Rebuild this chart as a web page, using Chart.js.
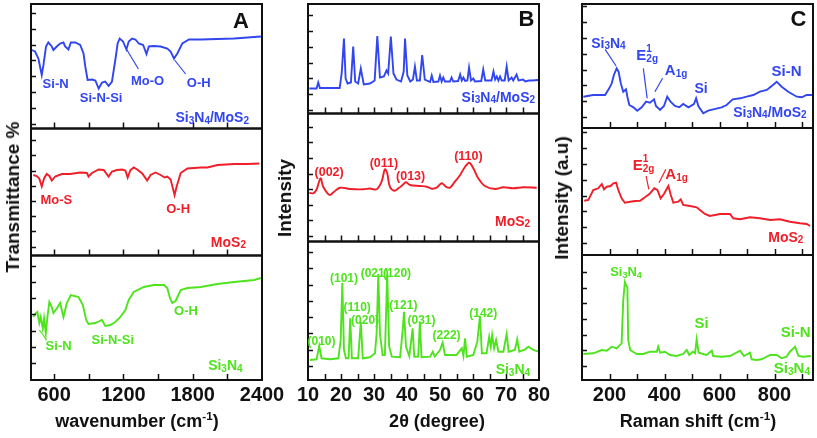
<!DOCTYPE html>
<html>
<head>
<meta charset="utf-8">
<script src="https://cdn.jsdelivr.net/npm/chart.js@4.4.1/dist/chart.umd.min.js"></script>
<style>
  body { margin: 0; background: #fff; }
  #fig { position: relative; width: 817px; height: 438px; overflow: hidden; }
  #fig canvas { position: absolute; left: 0; top: 0; }
  .lab { position: absolute; white-space: nowrap; font: bold 18px 'Liberation Sans', Arial, sans-serif; color: #111; transform: translate(-50%, -50%); }
  .lab.rot { transform: translate(-50%, -50%) rotate(-90deg); font-size: 19px; }
  .lab sup { font-size: 0.65em; vertical-align: 0.55em; line-height: 0; }
</style>
</head>
<body>
<div id="fig">
  <canvas id="panelA" width="817" height="438"></canvas>
  <canvas id="panelB" width="817" height="438"></canvas>
  <canvas id="panelC" width="817" height="438"></canvas>
  <div class="lab rot" style="left:13px;top:197px">Transmittance %</div>
  <div class="lab rot" style="left:285px;top:198px">Intensity</div>
  <div class="lab rot" style="left:562px;top:198px">Intensity (a.u)</div>
  <div class="lab" style="left:137px;top:421px">wavenumber (cm<sup>-1</sup>)</div>
  <div class="lab" style="left:437px;top:421px">2θ (degree)</div>
  <div class="lab" style="left:698px;top:421px">Raman shift (cm<sup>-1</sup>)</div>
</div>
<script>
const BLUE = '#3246f0', RED = '#f01e28', GREEN = '#4fe31e', INK = '#111';
const FONT = "'Liberation Sans', Arial, sans-serif";
const TICK_FONT = "'Liberation Sans Narrow', 'Liberation Sans', Arial, sans-serif";

// ---- A: FTIR (wavenumber, transmittance, arbitrary units per strip)
const ftirCompX = [406,435,464,493,507,530,550,580,594,623,652,681,696,724,745,783,826,855,870,890,928,957,986,1015,1043,1072,1101,1130,1150,1168,1197,1226,1246,1275,1304,1333,1371,1400,1420,1463,1522,1580,1609,1638,1667,1710,1768,1870,2015,2159,2275,2391];
const ftirCompY = [78.5,77,70,53.5,63,82,86,82,78.5,82,85,86,82,79,86,86,83.5,75,62,48.5,49,48,40,46,47,42.5,47,68.5,85,90,87,79,87,90,89,85,83.5,74.5,82,82.5,82,80,77,70,75,85,89,89,89.5,90,91,92];
const ftirMoS2X = [420,449,472,493,513,536,559,580,609,667,739,826,884,898,928,986,1029,1072,1101,1145,1189,1217,1237,1261,1290,1319,1363,1406,1435,1478,1522,1557,1580,1609,1632,1643,1661,1696,1754,1870,1928,2015,2159,2275,2377];
const ftirMoS2Y = [80.5,79.5,77,69,77,81.5,79.5,75,79,81.5,81.5,83,82.5,79,82.5,86,85.5,79,84,85.5,86,85,78,85.5,88,86,82,75,80.5,83,80.5,78,79,76,65.5,60.5,69,82.5,87,88,88,90.5,91.5,91.5,92];
const ftirSi3N4X = [420,443,455,472,484,502,513,528,542,559,580,594,623,652,681,710,745,811,849,878,898,957,1015,1043,1087,1130,1174,1217,1246,1290,1377,1463,1551,1580,1603,1623,1652,1696,1754,1870,2015,2159,2333,2390];
const ftirSi3N4Y = [63,67,68,57,63,51.5,61.5,46.5,63,78,73,67,71.5,77,63,77,85,83,75,60,56,57,60,54,55,58,63,70,80,88,93,95,95,92,82,77,79,90,92,93,96,98,100,102];

// ---- B: XRD (2theta, intensity)
const xrdCompX = [10.4,12.6,13.1,13.6,19.6,20.2,20.9,21.4,22.0,23.0,23.7,24.3,25.2,26.0,26.9,28.8,30.2,31.0,31.8,33.0,33.8,34.3,35.1,35.9,36.8,38.2,39.0,39.4,40.1,41.0,41.8,42.4,43.0,43.9,44.6,45.4,47.0,47.5,48.0,49.5,50.0,50.5,51.0,51.5,53.0,53.5,54.0,55.5,56.1,56.6,57.1,57.6,58.3,58.8,59.4,60.1,60.6,62.5,63.1,63.7,65.6,66.2,66.7,67.2,67.7,68.2,68.7,69.6,70.2,70.8,71.7,72.2,73.2,73.8,75.2,75.8,77.0,78.0,79.7];
const xrdCompY = [25,25,31,25.5,25.5,40,75,35,30,31,67,32,30,45,29,30,33,77.5,36,37,43,40,77,40,34,32,42,75,38,32,34,47,33,33,58.5,34,31.5,38,31.5,32,38,32,36,32,32,36,32,32.5,39,33,36,32.5,33,46,33,35,32,32.5,44,33,33,42,34,37,33,37,33,33,47,33,36,33,39,33,34,32,33,33,33.5];
const xrdMoS2X = [10.4,11.6,12.6,13.8,14.6,16.5,17.9,19.7,22.7,26.8,28.8,30.8,32.3,33.3,34.0,34.8,36.1,37.4,38.9,39.7,40.9,43.9,46.0,47.5,49.0,50.5,51.8,53.0,54.5,56.1,57.6,58.9,60.1,61.6,63.6,66.7,69.2,72.2,75.2,79.3];
const xrdMoS2Y = [48.8,48.2,52,63.2,54.8,46.5,49.8,53.8,52.5,52.2,53,52.2,59.8,72.2,68.2,54.8,50.8,53.2,57.2,59.2,56.5,55.5,54.8,52.8,53.8,58.2,54.8,53.8,59.8,66.5,74.8,78.8,73.2,63.2,55.5,52.5,54.2,53.2,54.2,53.8];
const xrdSi3N4X = [10.6,12.6,13.4,14.1,16.7,19.2,19.9,20.4,20.9,21.5,22.3,22.8,23.3,25.2,26.0,26.6,28.8,30.3,30.8,31.3,31.8,32.6,33.3,34.0,34.6,35.4,37.9,38.7,39.1,39.7,40.7,41.7,42.2,43.4,43.9,44.4,47.0,47.8,48.4,50.0,50.8,51.5,55.0,56.6,57.1,57.6,58.1,60.1,61.3,62.1,62.7,64.1,64.9,65.4,65.8,66.4,67.0,67.7,69.2,70.2,70.8,72.7,73.4,74.0,75.8,76.8,78.3,79.8];
const xrdSi3N4Y = [20,20.7,34,21.7,20.7,21.7,40,97,30,21.7,21.7,61.7,21.7,21.7,58.3,21.7,22.7,26.7,46.7,106,46.7,25,25,106,33.3,23.3,22.7,50,68.3,33.3,24,51.7,23.3,23.5,58.3,22.7,23.3,28.3,23.5,30,37.3,25,25,31.7,24,41.7,23.3,25,38.3,64,26.7,26.7,43.3,33.3,45,31.7,40,28.3,28.3,46,28.3,30,40.7,28.3,30.7,33.3,30,28.3];

// ---- C: Raman (shift, intensity)
const ramanCompX = [105,141,184,199,208,216,226,233,241,250,260,265,272,287,301,317,333,347,362,369,384,398,410,422,438,454,468,487,507,515,523,541,559,577,608,626,648,675,699,723,747,772,790,808,826,850,881,899,917,936];
const ramanCompY = [31.3,33,33,39.7,44.7,53,59.7,56.3,44.7,36.3,38.7,31.3,23,20.7,17.3,20.7,26.3,25.3,28.7,22,18,22,31.3,26.3,22,20.7,24,20.7,24,29.7,22,14.7,17.3,18.7,20.7,23,28.7,29.7,31.3,33,36.3,38,42,46.3,41.3,36.3,31.3,30.7,33,33];
const ramanMoS2X = [108,123,141,159,172,180,190,204,214,224,232,244,256,275,293,311,329,345,363,374,386,398,414,423,432,450,459,468,493,517,529,547,565,602,638,650,675,711,747,784,820,856,893,917,929];
const ramanMoS2Y = [54.3,55,65,66.7,71,65.7,68.3,69,71.7,72.3,65,56.7,52.3,53.3,54,54.3,57.7,61,66.7,65,56.7,61,69,60,52.3,53.3,55.7,50,49,47.7,45,41,39,41,41,36.7,35.7,37.7,36.7,35,35.7,33.3,31.7,31,29];
const ramanSi3N4X = [105,141,172,190,208,226,244,250,256,260,265,268,275,299,323,347,372,377,384,402,420,444,468,481,490,503,511,517,524,553,572,577,608,638,675,689,711,717,735,753,784,808,826,844,856,875,887,905,932];
const ramanSi3N4Y = [26,26.7,30,29.3,33.3,31.7,36.7,80,98,95,93,40,30,26,26,28.3,28.3,33.3,27.3,28.3,25,24,26,30,25,28.3,26.7,40.7,27.3,25,29.3,24,23.3,24,29.3,24,27.3,20.7,20,20.7,25,25,21.7,23.3,28.3,33.3,24,23.3,24];

// tick values
const ftirTickLabels = [600, 1200, 1800, 2400];
const ftirTickMarks = [600, 900, 1200, 1500, 1800, 2100];
const xrdTickLabels = [10, 20, 30, 40, 50, 60, 70, 80];
const xrdTickMarks = [15, 20, 25, 30, 35, 40, 45, 50, 55, 60, 65, 70, 75];
const ramanTickLabels = [200, 400, 600, 800];
const ramanTickMarks = [200, 300, 400, 500, 600, 700, 800, 900];

// annotations: [strip, x, y, text, colour, size, align]   (_ sub, ^ sup)
const notesA = [
  ['yA1', 613, 45.5, 'Si-N', BLUE, 13, 'center'],
  ['yA1', 1007, 31.5, 'Si-N-Si', BLUE, 13, 'center'],
  ['yA1', 1409, 48.5, 'Mo-O', BLUE, 13, 'center'],
  ['yA1', 1852, 46.5, 'O-H', BLUE, 13, 'center'],
  ['yA1', 2287, 11.5, 'Si_3N_4/MoS_2', BLUE, 14, 'right'],
  ['yA1', 2217, 108.5, 'A', INK, 22, 'center'],
  ['yA2', 619, 56.5, 'Mo-S', RED, 13, 'center'],
  ['yA2', 1674, 47, 'O-H', RED, 13, 'center'],
  ['yA2', 2261, 13.8, 'MoS_2', RED, 14, 'right'],
  ['yA3', 639, 35, 'Si-N', GREEN, 13, 'center'],
  ['yA3', 1108, 40.7, 'Si-N-Si', GREEN, 13, 'center'],
  ['yA3', 1742, 70, 'O-H', GREEN, 13, 'center'],
  ['yA3', 2232, 15, 'Si_3N_4', GREEN, 14, 'right']
];
const leadersA = [
  ['yA1', 1226, 79.5, 1330, 59.5, BLUE],
  ['yA1', 1643, 68.5, 1739, 54.5, BLUE],
  ['yA3', 472, 50, 536, 40, GREEN]
];
const notesB = [
  ['yB1', 78.8, 16.8, 'Si_3N_4/MoS_2', BLUE, 14, 'right'],
  ['yB1', 76.2, 95, 'B', INK, 22, 'center'],
  ['yB2', 16.4, 70.5, '(002)', RED, 12.5, 'center'],
  ['yB2', 33, 79, '(011)', RED, 12.5, 'center'],
  ['yB2', 41.1, 66.5, '(013)', RED, 12.5, 'center'],
  ['yB2', 58.6, 86.5, '(110)', RED, 12.5, 'center'],
  ['yB2', 77.3, 20.8, 'MoS_2', RED, 14, 'right'],
  ['yB3', 14.1, 39, '(010)', GREEN, 12, 'center'],
  ['yB3', 20.9, 102.3, '(101)', GREEN, 12, 'center'],
  ['yB3', 24.9, 73.3, '(110)', GREEN, 12, 'center'],
  ['yB3', 27.3, 60, '(020)', GREEN, 12, 'center'],
  ['yB3', 30.2, 107.3, '(021)', GREEN, 12, 'center'],
  ['yB3', 37.0, 107.3, '(120)', GREEN, 12, 'center'],
  ['yB3', 38.9, 75, '(121)', GREEN, 12, 'center'],
  ['yB3', 44.4, 60.7, '(031)', GREEN, 12, 'center'],
  ['yB3', 52, 45.7, '(222)', GREEN, 12, 'center'],
  ['yB3', 63.1, 67.7, '(142)', GREEN, 12, 'center'],
  ['yB3', 77.3, 10.7, 'Si_3N_4', GREEN, 14, 'right']
];
const notesC = [
  ['yC1', 196, 85.3, 'Si_3N_4', BLUE, 14, 'center'],
  ['yC1', 337, 73, 'E_{2g}^1', BLUE, 15, 'center'],
  ['yC1', 442, 58, 'A_{1g}', BLUE, 15, 'center'],
  ['yC1', 533, 39.7, 'Si', BLUE, 14, 'center'],
  ['yC1', 844, 57, 'Si-N', BLUE, 15, 'center'],
  ['yC1', 917, 16.3, 'Si_3N_4/MoS_2', BLUE, 14, 'right'],
  ['yC1', 887, 109.7, 'C', INK, 22, 'center'],
  ['yC2', 324, 90, 'E_{2g}^1', RED, 15, 'center'],
  ['yC2', 444, 81.7, 'A_{1g}', RED, 15, 'center'],
  ['yC2', 905, 18.3, 'MoS_2', RED, 14, 'right'],
  ['yC3', 260, 108.3, 'Si_3N_4', GREEN, 13, 'center'],
  ['yC3', 535, 57.3, 'Si', GREEN, 15, 'center'],
  ['yC3', 877, 48.3, 'Si-N', GREEN, 15, 'center'],
  ['yC3', 929, 12.7, 'Si_3N_4', GREEN, 15, 'right']
];
const leadersC = [
  ['yC1', 184, 78.7, 224, 62, BLUE],
  ['yC1', 323, 59.7, 337, 29.7, BLUE],
  ['yC1', 393, 49.7, 365, 36.3, BLUE],
  ['yC2', 333, 79, 343, 65.7, RED],
  ['yC2', 405, 85.7, 380, 72.3, RED]
];

function pts(xs, ys) {
  return xs.map((x, i) => ({ x: x, y: ys[i] }));
}

// split "Si_3N_4" / "E_{2g}^1" into normal, sub and sup runs
function parseRich(str) {
  const segs = [];
  let i = 0;
  while (i < str.length) {
    const c = str[i];
    if (c === '_' || c === '^') {
      const kind = c === '_' ? 'sub' : 'sup';
      let t;
      if (str[i + 1] === '{') {
        const j = str.indexOf('}', i);
        t = str.slice(i + 2, j);
        i = j + 1;
      } else {
        t = str[i + 1];
        i += 2;
      }
      segs.push({ kind, t });
    } else {
      let j = i;
      while (j < str.length && str[j] !== '_' && str[j] !== '^') j++;
      segs.push({ kind: 'n', t: str.slice(i, j) });
      i = j;
    }
  }
  return segs;
}

function drawRich(ctx, str, x, y, size, align, color) {
  const big = 'bold ' + size + 'px ' + FONT;
  const small = 'bold ' + Math.round(size * 0.68) + 'px ' + FONT;
  const items = [];
  let w = 0, subStart = null, subW = 0;
  parseRich(str).forEach(s => {
    const font = s.kind === 'n' ? big : small;
    ctx.font = font;
    const tw = ctx.measureText(s.t).width;
    if (s.kind === 'sup' && subStart !== null) {
      items.push({ kind: s.kind, t: s.t, font, x: subStart });
      if (tw > subW) w = subStart + tw;
      subStart = null;
    } else {
      items.push({ kind: s.kind, t: s.t, font, x: w });
      subStart = s.kind === 'sub' ? w : null;
      subW = tw;
      w += tw;
    }
  });
  const x0 = align === 'right' ? x - w : (align === 'left' ? x : x - w / 2);
  const base = y + size * 0.36;
  ctx.fillStyle = color;
  ctx.textAlign = 'left';
  ctx.textBaseline = 'alphabetic';
  items.forEach(it => {
    ctx.font = it.font;
    const dy = it.kind === 'sub' ? size * 0.12 : (it.kind === 'sup' ? -size * 0.58 : 0);
    ctx.fillText(it.t, x0 + it.x, base + dy);
  });
}

// frames, inward ticks and annotations for one column of strips
function framePlugin(cfg) {
  return {
    id: 'panelFrame',
    afterDraw(chart) {
      const { ctx, chartArea: a, scales } = chart;
      const xs = scales.x;
      ctx.save();
      ctx.strokeStyle = INK;
      cfg.strips.forEach(p => {
        const s = scales[p.id];
        ctx.lineWidth = 1.5;
        ctx.beginPath();
        cfg.tickMarks.forEach(v => {
          const px = Math.round(xs.getPixelForValue(v)) + 0.5;
          ctx.moveTo(px, s.bottom);
          ctx.lineTo(px, s.bottom - 6);
        });
        for (let v = p.tick0; v < p.h - 2; v += p.step) {
          const py = Math.round(s.getPixelForValue(v)) + 0.5;
          ctx.moveTo(a.left, py);
          ctx.lineTo(a.left + 5, py);
        }
        ctx.stroke();
        ctx.lineWidth = 2;
        ctx.strokeRect(a.left, s.top, a.right - a.left, s.bottom - s.top);
      });
      ctx.lineWidth = 1.2;
      cfg.leaders.forEach(([id, x1, y1, x2, y2, c]) => {
        const s = scales[id];
        ctx.strokeStyle = c;
        ctx.beginPath();
        ctx.moveTo(xs.getPixelForValue(x1), s.getPixelForValue(y1));
        ctx.lineTo(xs.getPixelForValue(x2), s.getPixelForValue(y2));
        ctx.stroke();
      });
      cfg.notes.forEach(([id, x, y, t, c, size, align]) => {
        drawRich(ctx, t, xs.getPixelForValue(x), scales[id].getPixelForValue(y), size, align, c);
      });
      ctx.restore();
    }
  };
}

function makePanel(canvasId, cfg) {
  const scales = {
    x: {
      type: 'linear',
      min: cfg.xMin,
      max: cfg.xMax,
      grid: { display: false, drawTicks: false },
      border: { display: false },
      afterBuildTicks: s => { s.ticks = cfg.tickLabels.map(v => ({ value: v })); },
      afterFit: s => { s.height = 58; s.paddingLeft = 0; s.paddingRight = 0; },
      ticks: {
        color: INK, padding: 3, maxRotation: 0, autoSkip: false,
        callback: v => String(v),
        font: { family: TICK_FONT, size: 20, weight: 'bold' }
      }
    }
  };
  // left-hand stacked boxes are laid out last-defined first, so add the bottom strip first
  cfg.strips.slice().reverse().forEach(p => {
    scales[p.id] = { type: 'linear', display: false, position: 'left', stack: 'col', stackWeight: p.h, min: 0, max: p.h };
  });
  new Chart(document.getElementById(canvasId), {
    type: 'line',
    data: {
      datasets: cfg.strips.map(p => ({
        data: pts(p.xs, p.ys),
        yAxisID: p.id,
        borderColor: p.color,
        borderWidth: 1.9,
        pointRadius: 0,
        tension: p.tension || 0,
        fill: false
      }))
    },
    options: {
      responsive: false,
      animation: false,
      devicePixelRatio: 1,
      layout: { padding: { left: cfg.left, right: 817 - cfg.right, top: 4, bottom: 0 } },
      plugins: { legend: { display: false }, tooltip: { enabled: false } },
      scales
    },
    plugins: [framePlugin(cfg)]
  });
}

makePanel('panelA', {
  left: 31, right: 262, xMin: 400, xMax: 2400,
  tickLabels: ftirTickLabels, tickMarks: ftirTickMarks,
  notes: notesA, leaders: leadersA,
  strips: [
    { id: 'yA1', xs: ftirCompX, ys: ftirCompY, color: BLUE, h: 124.5, tick0: 4.5, step: 15.9 },
    { id: 'yA2', xs: ftirMoS2X, ys: ftirMoS2Y, color: RED, h: 127, tick0: 9, step: 15.2 },
    { id: 'yA3', xs: ftirSi3N4X, ys: ftirSi3N4Y, color: GREEN, h: 124.5, tick0: 17, step: 16.2 }
  ]
});

makePanel('panelB', {
  left: 308, right: 539, xMin: 10, xMax: 80,
  tickLabels: xrdTickLabels, tickMarks: xrdTickMarks,
  notes: notesB, leaders: [],
  strips: [
    { id: 'yB1', xs: xrdCompX, ys: xrdCompY, color: BLUE, h: 109.5, tick0: 3.5, step: 15.8 },
    { id: 'yB2', xs: xrdMoS2X, ys: xrdMoS2Y, color: RED, h: 128, tick0: 5.5, step: 15.6, tension: 0.35 },
    { id: 'yB3', xs: xrdSi3N4X, ys: xrdSi3N4Y, color: GREEN, h: 138.5, tick0: 14, step: 16.3 }
  ]
});

makePanel('panelC', {
  left: 582, right: 813, xMin: 100, xMax: 940,
  tickLabels: ramanTickLabels, tickMarks: ramanTickMarks,
  notes: notesC, leaders: leadersC,
  strips: [
    { id: 'yC1', xs: ramanCompX, ys: ramanCompY, color: BLUE, h: 124, tick0: 11, step: 15.8 },
    { id: 'yC2', xs: ramanMoS2X, ys: ramanMoS2Y, color: RED, h: 127, tick0: 12, step: 15.8 },
    { id: 'yC3', xs: ramanSi3N4X, ys: ramanSi3N4Y, color: GREEN, h: 125, tick0: 14, step: 15.7 }
  ]
});
</script>
</body>
</html>
